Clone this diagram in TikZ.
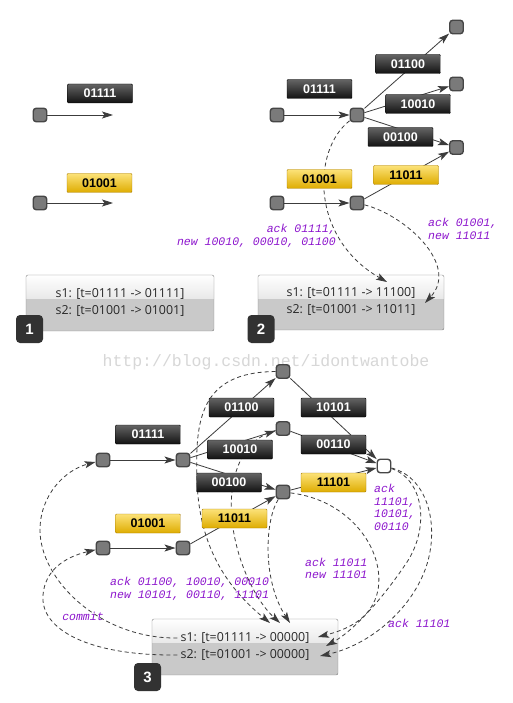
\documentclass[tikz,border=0pt]{standalone}
\usepackage{fontspec}
\setmainfont{Open Sans}
\newfontfamily\lblfont{Liberation Sans}
\newfontfamily\handfont{Liberation Mono}
\newfontfamily\wmfont{Liberation Mono}
\usetikzlibrary{arrows.meta}
\definecolor{purp}{RGB}{140,20,205}
\definecolor{sqfill}{RGB}{122,122,122}
\definecolor{sqborder}{RGB}{70,70,70}
\definecolor{blktop}{RGB}{100,100,100}
\definecolor{blkbot}{RGB}{18,18,18}
\definecolor{ylwtop}{RGB}{252,226,120}
\definecolor{ylwbot}{RGB}{222,172,0}
\definecolor{ylwborder}{RGB}{170,125,0}
\definecolor{linec}{RGB}{60,60,60}
\definecolor{badgec}{RGB}{50,50,50}
\definecolor{txtc}{RGB}{40,40,40}
\definecolor{boxtop}{RGB}{232,232,232}
\definecolor{boxbot}{RGB}{201,201,201}
\definecolor{boxline}{RGB}{135,135,135}
\definecolor{wmc}{RGB}{215,215,215}
\begin{document}
\begin{tikzpicture}[x=1pt,y=-1pt,
  sq/.style={draw=sqborder, fill=sqfill, line width=1.4pt, rounded corners=3pt, minimum size=13.5pt, inner sep=0pt},
  wsq/.style={sq, fill=white},
  blk/.style={draw=black, rounded corners=1pt, top color=blktop, bottom color=blkbot, text=white,
    font=\lblfont\bfseries\fontsize{12.5}{13}\selectfont, minimum width=65pt, minimum height=19pt, inner sep=0pt},
  ylw/.style={blk, draw=ylwborder, top color=ylwtop, bottom color=ylwbot, text=black},
  conn/.style={draw=linec, line width=0.8pt, -{Stealth[length=11pt,width=7pt,inset=2.5pt]}},
  dsh/.style={conn, dash pattern=on 4pt off 3pt},
  ann/.style={text=purp, font=\handfont\itshape\fontsize{11.5}{12.5}\selectfont, inner sep=0pt},
  badge/.style={fill=badgec, rounded corners=4pt, minimum width=27pt, minimum height=28pt, text=white,
    font=\lblfont\bfseries\fontsize{15}{15}\selectfont, inner sep=0pt},
  stxt/.style={font=\fontsize{12.4}{13}\selectfont, text=txtc, inner sep=0pt}
]
\useasboundingbox[fill=white] (0,0) rectangle (512,703);

% ---------- state boxes (background shapes) ----------
\fill[top color=white, bottom color=boxtop] (26,275) rectangle (214,299);
\fill[boxbot] (26,299) rectangle (214,331);
\draw[boxline, rounded corners=2pt] (26,275) rectangle (214,331);
\fill[top color=white, bottom color=boxtop] (258,275) rectangle (444,299);
\fill[boxbot] (258,299) rectangle (444,330);
\draw[boxline, rounded corners=2pt] (258,275) rectangle (444,330);
\fill[top color=white, bottom color=boxtop] (152,619) rectangle (338,643);
\fill[boxbot] (152,643) rectangle (338,675);
\draw[boxline, rounded corners=2pt] (152,619) rectangle (338,675);

\node[stxt] (s1a) at (120,294) {s1: [t=01111 -> 01111]};
\node[stxt] (s1b) at (120,311) {s2: [t=01001 -> 01001]};
\node[stxt] (s2a) at (351,293) {s1: [t=01111 -> 11100]};
\node[stxt] (s2b) at (351,310) {s2: [t=01001 -> 11011]};
\node[stxt] (s3a) at (245,638) {s1: [t=01111 -> 00000]};
\node[stxt] (s3b) at (245,655) {s2: [t=01001 -> 00000]};

\node[badge] (b1) at (29.5,329) {1};
\node[badge] (b2) at (261,329) {2};
\node[badge] (b3) at (147.5,677) {3};

% watermark
\node[text=wmc, font=\wmfont\fontsize{16.5}{17}\selectfont, inner sep=0pt] (wm) at (266,362) {http://blog.csdn.net/idontwantobe};

% ---------- panel 1 ----------
\node[sq] (p1a) at (40,115) {};
\node[sq] (p1b) at (40,203) {};
\coordinate (e1a) at (113,115);
\coordinate (e1b) at (113,203);
\draw[conn] (p1a) -- (e1a);
\draw[conn] (p1b) -- (e1b);
\node[blk] (l1a) at (100,93.5) {01111};
\node[ylw] (l1b) at (99.5,183) {01001};

% ---------- panel 2 ----------
\node[sq] (q1) at (277,115) {};
\node[sq] (q2) at (357,115) {};
\node[sq] (q3) at (277,203) {};
\node[sq] (q4) at (357,203) {};
\node[sq] (q5) at (456.5,27) {};
\node[sq] (q6) at (456.5,84) {};
\node[sq] (q7) at (456.5,147.5) {};
\draw[conn] (q1) -- (q2);
\draw[conn] (q2) -- (q5);
\draw[conn] (q2) -- (q6);
\draw[conn] (q2) -- (q7);
\draw[conn] (q3) -- (q4);
\draw[conn] (q4) -- (q7);
\coordinate (t2a) at (387,282);
\coordinate (t2b) at (425,303);
\draw[dsh] (q2) .. controls (312,150) and (310,238) .. (t2a);
\draw[dsh] (q4) .. controls (405,215) and (460,265) .. (t2b);
\node[blk] (l2a) at (319.5,89) {01111};
\node[blk] (l2b) at (408,64) {01100};
\node[blk] (l2c) at (418,104) {10010};
\node[blk] (l2d) at (400.5,137) {00100};
\node[ylw] (l2e) at (319.5,179) {01001};
\node[ylw] (l2f) at (406,175) {11011};
\node[ann, align=right, anchor=east] (a2a) at (336,236) {ack 01111,\\new 10010, 00010, 01100};
\node[ann, align=left, anchor=west] (a2b) at (428,229) {ack 01001,\\new 11011};

% ---------- panel 3 ----------
\node[sq] (r1) at (103,460) {};
\node[sq] (r2) at (183,460) {};
\node[sq] (r3) at (103,548) {};
\node[sq] (r4) at (183,548) {};
\node[sq] (r5) at (283,371.5) {};
\node[sq] (r6) at (283,428.5) {};
\node[sq] (r7) at (283,492) {};
\node[wsq] (r8) at (384,466) {};
\draw[conn] (r1) -- (r2);
\draw[conn] (r3) -- (r4);
\draw[conn] (r2) -- (r5);
\draw[conn] (r2) -- (r6);
\draw[conn] (r2) -- (r7);
\draw[conn] (r4) -- (r7);
\draw[conn] (r5) -- (r8);
\draw[conn] (r6) -- (r8);
\draw[conn] (r7) -- (r8);

\coordinate (t3a) at (270,623);
\coordinate (t3b) at (280,623);
\coordinate (t3c) at (290,623);
\coordinate (t3d) at (318,637);
\coordinate (t3e) at (326,646);
\coordinate (t3f) at (320,656);
% commit curves
\draw[dsh] ([xshift=-3pt]s3a.west) .. controls (100,639) and (40,580) .. (40,530) .. controls (40,495) and (65,470) .. (r1);
\draw[dsh] ([xshift=-3pt]s3b.west) .. controls (90,656) and (40,630) .. (43,595) .. controls (45,570) and (65,557) .. (r3);
% acks to top of box
\draw[dsh] (r5) .. controls (200,372) and (195,420) .. (197,480) .. controls (199,550) and (230,590) .. (t3a);
\draw[dsh] (r6) .. controls (240,440) and (228,480) .. (232,520) .. controls (236,560) and (255,600) .. (t3b);
\draw[dsh] (r7) .. controls (265,520) and (262,580) .. (t3c);
% right side curves
\draw[dsh] (r7) .. controls (350,500) and (385,550) .. (378,590) .. controls (372,620) and (345,630) .. (t3d);
\draw[dsh] (r8) .. controls (425,480) and (430,530) .. (405,565) .. controls (385,595) and (355,630) .. (t3e);
\draw[dsh] (r8) .. controls (430,478) and (440,530) .. (425,570) .. controls (410,610) and (370,645) .. (t3f);

\node[blk] (l3a) at (148,434.5) {01111};
\node[ylw] (l3b) at (148,523.5) {01001};
\node[blk] (l3c) at (241.5,407.5) {01100};
\node[blk] (l3d) at (333.5,407.5) {10101};
\node[blk] (l3e) at (240,449.5) {10010};
\node[blk] (l3f) at (333.5,444.5) {00110};
\node[blk] (l3g) at (229,482.5) {00100};
\node[ylw] (l3h) at (333.5,482.5) {11101};
\node[ylw] (l3i) at (234.5,518.5) {11011};

\node[ann, align=left, anchor=north west] (a3a) at (374,484) {ack\\11101,\\10101,\\00110};
\node[ann, align=left, anchor=west] (a3b) at (305,568.5) {ack 11011\\new 11101};
\node[ann, align=left, anchor=west] (a3c) at (110,589) {ack 01100, 10010, 00010\\new 10101, 00110, 11101};
\node[ann] (a3d) at (83,616) {commit};
\node[ann, anchor=west] (a3e) at (388,623) {ack 11101};
\end{tikzpicture}
\end{document}
